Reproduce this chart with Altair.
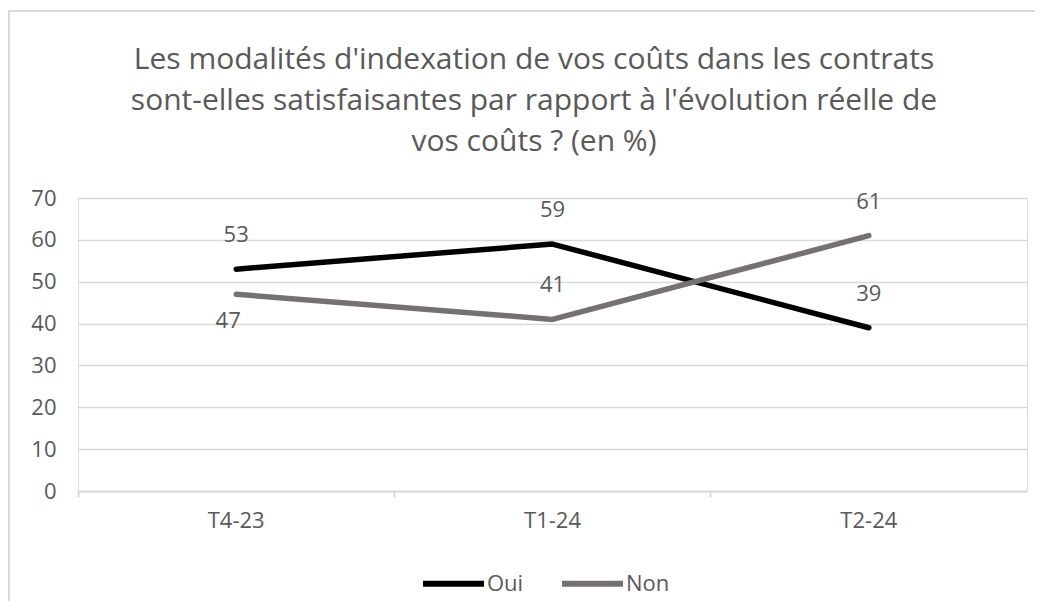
import altair as alt
import pandas as pd

periods = ["T4-23", "T1-24", "T2-24"]
oui = [53, 59, 39]
non = [47, 41, 61]
oui_pos = ["above", "above", "above"]
non_pos = ["below", "above", "above"]
series_names = ["Oui", "Non"]
series_colors = ["#000000", "#767171"]
title_lines = [
    "Les modalités d'indexation de vos coûts dans les contrats",
    "sont-elles satisfaisantes par rapport à l'évolution réelle de",
    "vos coûts ? (en %)",
]

rows = []
for p, v, pos in zip(periods, oui, oui_pos):
    rows.append({"period": p, "series": "Oui", "value": v, "pos": pos})
for p, v, pos in zip(periods, non, non_pos):
    rows.append({"period": p, "series": "Non", "value": v, "pos": pos})
df = pd.DataFrame(rows)

FONT = "Open Sans"
TXT = "#595959"
GRID = "#d9d9d9"

x_enc = alt.X(
    "period:N",
    sort=periods,
    scale=alt.Scale(type="band", paddingInner=0, paddingOuter=0),
    axis=alt.Axis(
        title=None,
        labelAngle=0,
        labelFont=FONT,
        labelFontSize=22,
        labelColor=TXT,
        labelPadding=13,
        domainColor=GRID,
        domainWidth=2,
        tickColor=GRID,
        tickWidth=2,
        tickSize=6,
        bandPosition=0,
        grid=False,
    ),
)
y_enc = alt.Y(
    "value:Q",
    scale=alt.Scale(domain=[0, 70], nice=False),
    axis=alt.Axis(
        title=None,
        values=[0, 10, 20, 30, 40, 50, 60, 70],
        labelFont=FONT,
        labelFontSize=22,
        labelColor=TXT,
        labelPadding=22,
        domain=False,
        ticks=False,
        gridColor=GRID,
        gridWidth=1.5,
    ),
)
color_enc = alt.Color(
    "series:N",
    sort=series_names,
    scale=alt.Scale(domain=series_names, range=series_colors),
    legend=alt.Legend(
        orient="none",
        legendX=342,
        legendY=352,
        direction="horizontal",
        title=None,
        symbolType="stroke",
        symbolSize=3721,
        symbolStrokeWidth=6,
        labelFont=FONT,
        labelFontSize=22,
        labelColor=TXT,
        labelOffset=0,
        columnPadding=26,
        padding=0,
    ),
)

base = alt.Chart(df)

lines = base.mark_line(strokeWidth=5.5, strokeCap="round", strokeJoin="round").encode(
    x=x_enc, y=y_enc, color=color_enc
)

labels_above = base.transform_filter(alt.datum.pos == "above").mark_text(
    font=FONT, fontSize=22, color=TXT, baseline="alphabetic", dy=-27
).encode(x=alt.X("period:N", sort=periods), y="value:Q", text="value:Q")

labels_below = base.transform_filter(alt.datum.pos == "below").mark_text(
    font=FONT, fontSize=22, color=TXT, baseline="alphabetic", dy=34, dx=-8
).encode(x=alt.X("period:N", sort=periods), y="value:Q", text="value:Q")

frame_df = pd.DataFrame({"k": [0]})
left_border = alt.Chart(frame_df).mark_rule(color=GRID, strokeWidth=2).encode(
    x=alt.value(-69), y=alt.value(-187), y2=alt.value(420)
)
top_border = alt.Chart(frame_df).mark_rule(color=GRID, strokeWidth=2).encode(
    x=alt.value(-70), x2=alt.value(960), y=alt.value(-187)
)
title_text = alt.Chart(frame_df).mark_text(
    text=title_lines,
    font=FONT,
    fontSize=30,
    color=TXT,
    align="center",
    baseline="alphabetic",
    lineHeight=41,
).encode(x=alt.value(456), y=alt.value(-129))

chart = (
    alt.layer(left_border, top_border, title_text, lines, labels_above, labels_below)
    .properties(
        width=949,
        height=293,
        padding={"left": 70, "top": 190, "right": 8, "bottom": 110},
        autosize=alt.AutoSizeParams(type="none"),
    )
    .configure_view(stroke=None)
    .configure(background="white")
)

chart.save("out.html", embed_options={"renderer": "svg", "actions": False})
